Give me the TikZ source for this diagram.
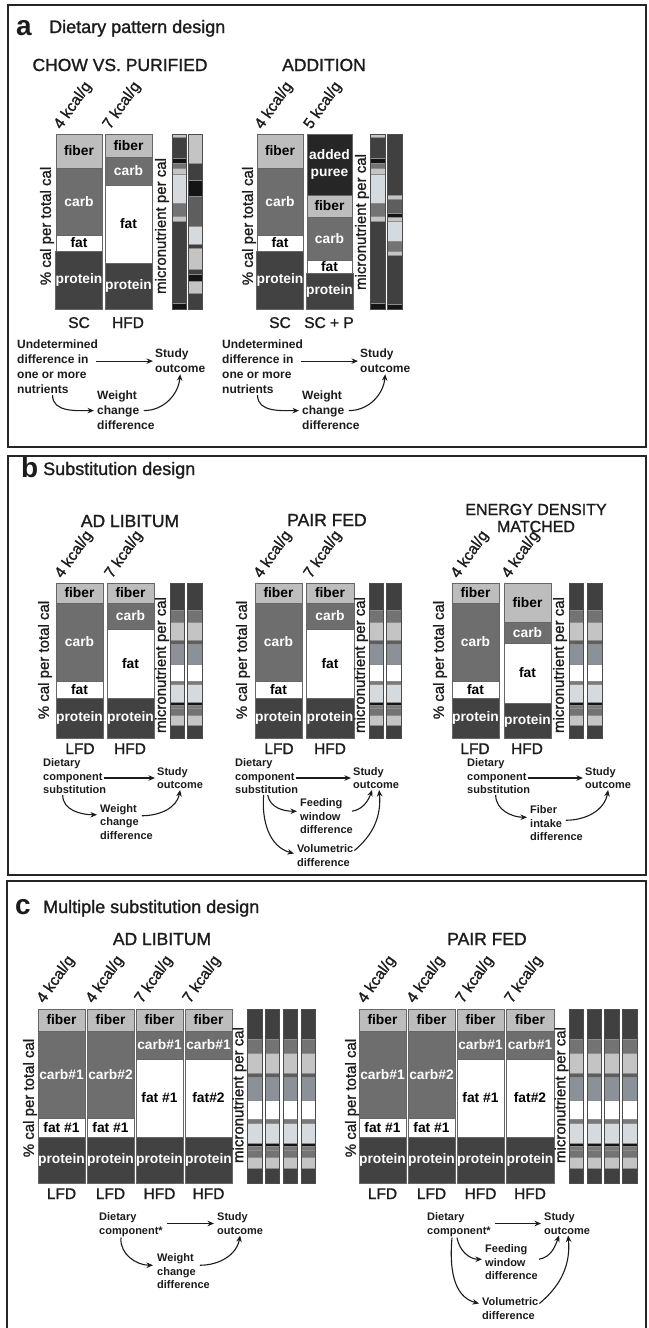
\documentclass[tikz,border=0pt]{standalone}
\usepackage{fontspec}
\setmainfont{Liberation Sans}
\newfontfamily\medfont{Liberation Sans}[FakeBold=1.3]
\usetikzlibrary{arrows.meta}
\definecolor{fibc}{HTML}{BDBDBD}
\definecolor{carbc}{HTML}{6E6E6E}
\definecolor{protc}{HTML}{424242}
\definecolor{purc}{HTML}{262626}
\definecolor{mdark}{HTML}{404040}
\definecolor{mmid}{HTML}{737373}
\definecolor{mlight}{HTML}{C4C4C4}
\definecolor{mgraytwo}{HTML}{5E5E5E}
\definecolor{mblue}{HTML}{8A9198}
\definecolor{mvlb}{HTML}{D5DADE}
\definecolor{mblack}{HTML}{141414}
\definecolor{mgraythree}{HTML}{7A7A7A}
\definecolor{ink}{HTML}{1C1C1C}
\newcommand\fSeg{\fontsize{13.8}{15}\selectfont\bfseries}
\newcommand\fPur{\fontsize{13.8}{17}\selectfont\bfseries}
\newcommand\fKcal{\medfont\fontsize{15.5}{17}\selectfont}
\newcommand\fYlab{\medfont\fontsize{15}{17}\selectfont}
\newcommand\fDlab{\medfont\fontsize{15.5}{17}\selectfont}
\newcommand\fTtl{\medfont\fontsize{17.5}{20}\selectfont}
\newcommand\fTtlS{\medfont\fontsize{16}{19}\selectfont}
\newcommand\fHead{\medfont\fontsize{18}{20}\selectfont}
\newcommand\fLetter{\fontsize{28}{30}\selectfont\bfseries}
\newcommand\fFlowA{\fontsize{12}{15}\selectfont\bfseries}
\newcommand\fFlowB{\fontsize{11}{13.5}\selectfont\bfseries}
\def\ytop{0}\def\ybot{0}
\newcommand\segn[7]{\node[seg,#2,minimum width={#4-#3},minimum height={#6-#5}] (#1) at ({(#3+#4)/2},{(#5+#6)/2}) {#7};}
\newcommand\stk[8]{%
 \segn{#1f}{fib}{#2}{#3}{\ytop}{#4}{fiber}%
 \segn{#1c}{crb}{#2}{#3}{#4}{#5}{#7}%
 \segn{#1t}{ft}{#2}{#3}{#5}{#6}{#8}%
 \segn{#1p}{prt}{#2}{#3}{#6}{\ybot}{protein}}
\newcommand\microbar[3]{%
 \foreach \pa/\pb/\pc in #3 {\filldraw[fill=\pc,draw=black!45,line width=0.3pt] (#1,{\ytop+\pa*(\ybot-\ytop)}) rectangle (#2,{\ytop+\pb*(\ybot-\ytop)});}%
 \draw[draw=black!70,line width=0.7pt] (#1,\ytop) rectangle (#2,\ybot);}
\def\patA{0/.017/mlight,.017/.137/mdark,.137/.166/mblack,.166/.194/mmid,.194/.232/mlight,.232/.394/mvlb,.394/.469/mmid,.469/.5/mlight,.5/.966/mdark,.966/1/mblack}
\def\patB{0/.166/mlight,.166/.261/mdark,.261/.356/mblack,.356/.526/mgraytwo,.526/.63/mvlb,.63/.65/mdark,.65/.773/mlight,.773/.8/mdark,.8/.84/mblack,.84/.907/mlight,.907/1/mdark}
\def\patC{0/.35/mdark,.35/.37/mlight,.37/.45/mgraytwo,.45/.475/mblack,.475/.5/mlight,.5/.61/mvlb,.61/.67/mmid,.67/.69/mlight,.69/.97/mdark,.97/1/mblack}
\def\patP{0/.173/mdark,.173/.255/mmid,.255/.37/mlight,.37/.393/mgraytwo,.393/.525/mblue,.525/.635/white,.635/.655/mgraythree,.655/.77/mvlb,.77/.79/mblack,.79/.81/mgraythree,.81/.85/mmid,.85/.915/mlight,.915/1/mdark}
\begin{document}
\begin{tikzpicture}[x=1pt,y=-1pt,
 seg/.style={draw=black!60,line width=0.6pt,inner sep=0pt,outer sep=0pt,font=\fSeg},
 fib/.style={fill=fibc,text=black},
 crb/.style={fill=carbc,text=white},
 ft/.style={fill=white,text=black},
 prt/.style={fill=protc,text=white},
 pur/.style={fill=purc,text=white,align=center,font=\fPur},
 kcal/.style={anchor=base west,rotate=55,inner sep=0pt,font=\fKcal,text=ink},
 ylab/.style={rotate=90,inner sep=0pt,font=\fYlab,text=ink},
 dlab/.style={anchor=base,inner sep=0pt,font=\fDlab,text=ink},
 ttl/.style={anchor=base,inner sep=0pt,font=\fTtl,text=ink},
 head/.style={anchor=base west,inner sep=0pt,font=\fHead,text=ink},
 letter/.style={anchor=base west,inner sep=0pt,font=\fLetter,text=ink},
 flow/.style={align=left,inner sep=1pt,anchor=north west,text=ink},
 arr/.style={-{Stealth[length=6.5pt,width=5.5pt]},line width=1.1pt,ink},
 panel/.style={draw=black!85,line width=1.6pt}]
\useasboundingbox (0,0) rectangle (648,1328);
\fill[white] (0,0) rectangle (648,1328);
% frames
\draw[panel] (8,5) rectangle (646,447);
\draw[panel] (8,456) rectangle (646,875);
\draw[panel] (7,1335) -- (7,881) -- (646,881) -- (646,1335);
%================ panel a
\node[letter] (la) at (16,35) {a};
\node[head] (ha) at (49,33) {Dietary pattern design};
\node[ttl] (tA1) at (120,71) {CHOW VS. PURIFIED};
\node[ttl] (tA2) at (324,71) {ADDITION};
\def\ytop{134}\def\ybot{309}
\stk{a1}{56}{102}{168}{235}{251}{carb}{fat}
\stk{a2}{105}{152}{157}{185}{263}{carb}{fat}
\stk{a3}{257}{303}{168}{235}{251}{carb}{fat}
\segn{a4u}{pur}{307}{352}{134}{195}{added\\puree}
\segn{a4f}{fib}{307}{352}{195}{217}{fiber}
\segn{a4c}{crb}{307}{352}{217}{260}{carb}
\segn{a4t}{ft}{307}{352}{260}{273}{fat}
\segn{a4p}{prt}{307}{352}{273}{309}{protein}
\microbar{172}{186}{\patA}
\microbar{188}{202}{\patB}
\microbar{370}{385}{\patA}
\microbar{387}{402}{\patC}
\node[kcal] (kA1) at (61,130) {4 kcal/g};
\node[kcal] (kA2) at (110,130) {7 kcal/g};
\node[kcal] (kA3) at (262,130) {4 kcal/g};
\node[kcal] (kA4) at (311,130) {5 kcal/g};
\node[ylab] (yA1) at (47,226) {\% cal per total cal};
\node[ylab] (mA1) at (162,226) {micronutrient per cal};
\node[ylab] (yA2) at (249,226) {\% cal per total cal};
\node[ylab] (mA2) at (362,222) {micronutrient per cal};
\node[dlab] (dA1) at (79,328) {SC};
\node[dlab] (dA2) at (128,328) {HFD};
\node[dlab] (dA3) at (280,328) {SC};
\node[dlab] (dA4) at (329,328) {SC + P};
% flows a
\node[flow,font=\fFlowA] (undA) at (16,339) {Undetermined\\difference in\\one or more\\nutrients};
\node[flow,font=\fFlowA] (stuA) at (154,348) {Study\\outcome};
\node[flow,font=\fFlowA] (wcdA) at (96,390) {Weight\\change\\difference};
\draw[arr] ([xshift=-3pt]undA.east |- stuA.west) -- ([xshift=-1pt]stuA.west);
\draw[arr] ([xshift=-5pt]undA.south) to[out=-90,in=180] ([xshift=-2pt]wcdA.west);
\draw[arr] ([xshift=-12pt]wcdA.east) to[out=0,in=-95] (stuA.south);
\node[flow,font=\fFlowA] (undB) at (221,339) {Undetermined\\difference in\\one or more\\nutrients};
\node[flow,font=\fFlowA] (stuB) at (359,348) {Study\\outcome};
\node[flow,font=\fFlowA] (wcdB) at (301,390) {Weight\\change\\difference};
\draw[arr] ([xshift=-3pt]undB.east |- stuB.west) -- ([xshift=-1pt]stuB.west);
\draw[arr] ([xshift=-5pt]undB.south) to[out=-90,in=180] ([xshift=-2pt]wcdB.west);
\draw[arr] ([xshift=-12pt]wcdB.east) to[out=0,in=-95] (stuB.south);
%================ panel b
\node[letter] (lb) at (21,477) {b};
\node[head] (hb) at (43,475) {Substitution design};
\node[ttl] (tB1) at (130,527) {AD LIBITUM};
\node[ttl] (tB2) at (327,526) {PAIR FED};
\node[ttl,font=\fTtlS] (tB3) at (536,515) {ENERGY DENSITY};
\node[ttl,font=\fTtlS] (tB3b) at (536,532) {MATCHED};
\def\ytop{583}\def\ybot{738}
\stk{b1}{56}{103}{603}{681}{698}{carb}{fat}
\stk{b2}{107}{154}{603}{629}{698}{carb}{fat}
\stk{b3}{255}{302}{603}{681}{698}{carb}{fat}
\stk{b4}{306}{354}{603}{629}{698}{carb}{fat}
\stk{b5}{452}{499}{603}{681}{698}{carb}{fat}
\stk{b6}{504}{551}{622}{643}{703}{carb}{fat}
\microbar{170}{184}{\patP}
\microbar{187}{202}{\patP}
\microbar{369}{383}{\patP}
\microbar{386}{401}{\patP}
\microbar{569}{583}{\patP}
\microbar{587}{602}{\patP}
\node[kcal] (kB1) at (62,579) {4 kcal/g};
\node[kcal] (kB2) at (112,579) {7 kcal/g};
\node[kcal] (kB3) at (261,579) {4 kcal/g};
\node[kcal] (kB4) at (311,579) {7 kcal/g};
\node[kcal] (kB5) at (458,579) {4 kcal/g};
\node[kcal] (kB6) at (509,579) {4 kcal/g};
\node[ylab] (yB1) at (45,660) {\% cal per total cal};
\node[ylab] (yB2) at (243,660) {\% cal per total cal};
\node[ylab] (yB3) at (440,660) {\% cal per total cal};
\node[ylab] (mB1) at (162,665) {micronutrient per cal};
\node[ylab] (mB2) at (361,665) {micronutrient per cal};
\node[ylab] (mB3) at (560,665) {micronutrient per cal};
\node[dlab] (dB1) at (80,754) {LFD};
\node[dlab] (dB2) at (130,754) {HFD};
\node[dlab] (dB3) at (279,754) {LFD};
\node[dlab] (dB4) at (330,754) {HFD};
\node[dlab] (dB5) at (475,754) {LFD};
\node[dlab] (dB6) at (527,754) {HFD};
% flows b1
\node[flow,font=\fFlowB] (dietB1) at (42,757.5) {Dietary\\component\\substitution};
\node[flow,font=\fFlowB] (stuB1) at (156,766) {Study\\outcome};
\node[flow,font=\fFlowB] (wcdB1) at (99,803) {Weight\\change\\difference};
\draw[arr] ([xshift=-3pt]dietB1.east |- stuB1.west) -- ([xshift=-1pt]stuB1.west);
\draw[arr] ([xshift=-12pt]dietB1.south) to[out=-90,in=180] ([yshift=7pt,xshift=-2pt]wcdB1.west);
\draw[arr] ([yshift=6pt,xshift=-12pt]wcdB1.east) to[out=0,in=-100] (stuB1.south);
% flows b2
\node[flow,font=\fFlowB] (dietB2) at (234,757.5) {Dietary\\component\\substitution};
\node[flow,font=\fFlowB] (stuB2) at (352,766) {Study\\outcome};
\node[flow,font=\fFlowB] (feedB2) at (299,797.5) {Feeding\\window\\difference};
\node[flow,font=\fFlowB] (volB2) at (296,843.5) {Volumetric\\difference};
\draw[arr] ([xshift=-3pt]dietB2.east |- stuB2.west) -- ([xshift=-1pt]stuB2.west);
\draw[arr] ([xshift=1pt]dietB2.south) to[out=-80,in=180] ([yshift=5pt,xshift=-2pt]feedB2.west);
\draw[arr] ([xshift=-3pt]dietB2.south) to[out=-95,in=165] ([yshift=2pt,xshift=-2pt]volB2.west);
\draw[arr] ([yshift=5pt,xshift=-2pt]feedB2.east) to[out=10,in=-110] ([xshift=-4pt]stuB2.south);
\draw[arr] ([yshift=5pt]volB2.east) to[out=40,in=-85] ([xshift=3pt]stuB2.south);
% flows b3
\node[flow,font=\fFlowB] (dietB3) at (466,757.5) {Dietary\\component\\substitution};
\node[flow,font=\fFlowB] (stuB3) at (584,766) {Study\\outcome};
\node[flow,font=\fFlowB] (fibB3) at (529,804.5) {Fiber\\intake\\difference};
\draw[arr] ([xshift=-3pt]dietB3.east |- stuB3.west) -- ([xshift=-1pt]stuB3.west);
\draw[arr] ([xshift=-3pt]dietB3.south) to[out=-90,in=180] ([yshift=6pt,xshift=-2pt]fibB3.west);
\draw[arr] ([yshift=3pt,xshift=-18pt]fibB3.east) to[out=0,in=-100] (stuB3.south);
%================ panel c
\node[letter] (lc) at (15,914) {c};
\node[head] (hc) at (43,913) {Multiple substitution design};
\node[ttl] (tC1) at (162,945) {AD LIBITUM};
\node[ttl] (tC2) at (487,945) {PAIR FED};
\def\ytop{1009}\def\ybot{1183}
\stk{c1}{38}{85}{1031}{1118}{1137}{carb\#1}{fat \#1}
\stk{c2}{87}{134}{1031}{1118}{1137}{carb\#2}{fat \#1}
\stk{c3}{136}{183}{1031}{1059}{1137}{carb\#1}{fat \#1}
\stk{c4}{185}{232}{1031}{1059}{1137}{carb\#1}{fat\#2}
\stk{c5}{359}{406}{1031}{1118}{1137}{carb\#1}{fat \#1}
\stk{c6}{408}{455}{1031}{1118}{1137}{carb\#2}{fat \#1}
\stk{c7}{457}{504}{1031}{1059}{1137}{carb\#1}{fat \#1}
\stk{c8}{506}{554}{1031}{1059}{1137}{carb\#1}{fat\#2}
\microbar{247}{262}{\patP}
\microbar{265}{279}{\patP}
\microbar{283}{297}{\patP}
\microbar{301}{315}{\patP}
\microbar{569}{583}{\patP}
\microbar{587}{601}{\patP}
\microbar{604}{619}{\patP}
\microbar{622}{637}{\patP}
\node[kcal] (kC1) at (44,1004) {4 kcal/g};
\node[kcal] (kC2) at (93,1004) {4 kcal/g};
\node[kcal] (kC3) at (142,1004) {7 kcal/g};
\node[kcal] (kC4) at (190,1004) {7 kcal/g};
\node[kcal] (kC5) at (365,1004) {4 kcal/g};
\node[kcal] (kC6) at (414,1004) {4 kcal/g};
\node[kcal] (kC7) at (463,1004) {7 kcal/g};
\node[kcal] (kC8) at (512,1004) {7 kcal/g};
\node[ylab] (yC1) at (30,1098) {\% cal per total cal};
\node[ylab] (yC2) at (352,1098) {\% cal per total cal};
\node[ylab] (mC1) at (239.5,1095) {micronutrient per cal};
\node[ylab] (mC2) at (561.5,1095) {micronutrient per cal};
\node[dlab] (dC1) at (61.5,1199) {LFD};
\node[dlab] (dC2) at (110.5,1199) {LFD};
\node[dlab] (dC3) at (159.5,1199) {HFD};
\node[dlab] (dC4) at (208.5,1199) {HFD};
\node[dlab] (dC5) at (382.5,1199) {LFD};
\node[dlab] (dC6) at (431.5,1199) {LFD};
\node[dlab] (dC7) at (480.5,1199) {HFD};
\node[dlab] (dC8) at (530,1199) {HFD};
% flows c1
\node[flow,font=\fFlowB] (dietC1) at (98,1211.5) {Dietary\\component*};
\node[flow,font=\fFlowB] (stuC1) at (216,1211.5) {Study\\outcome};
\node[flow,font=\fFlowB] (wcdC1) at (156,1252.5) {Weight\\change\\difference};
\draw[arr] ([xshift=3pt]dietC1.east |- stuC1.west) -- ([xshift=-2pt]stuC1.west);
\draw[arr] ([xshift=-10pt]dietC1.south) to[out=-95,in=180] ([yshift=6pt,xshift=-3pt]wcdC1.west);
\draw[arr] ([yshift=6pt,xshift=-11pt]wcdC1.east) to[out=0,in=-100] (stuC1.south);
% flows c2
\node[flow,font=\fFlowB] (dietC2) at (426,1211.5) {Dietary\\component*};
\node[flow,font=\fFlowB] (stuC2) at (543,1211.5) {Study\\outcome};
\node[flow,font=\fFlowB] (feedC2) at (484,1243.5) {Feeding\\window\\difference};
\node[flow,font=\fFlowB] (volC2) at (481,1296.5) {Volumetric\\difference};
\draw[arr] ([xshift=3pt]dietC2.east |- stuC2.west) -- ([xshift=-2pt]stuC2.west);
\draw[arr] ([xshift=-2pt]dietC2.south) to[out=-80,in=180] ([yshift=3pt,xshift=-2pt]feedC2.west);
\draw[arr] ([xshift=-7pt]dietC2.south) to[out=-95,in=165] ([yshift=5pt,xshift=-2pt]volC2.west);
\draw[arr] ([yshift=3pt]feedC2.east) to[out=10,in=-110] ([xshift=-8pt]stuC2.south);
\draw[arr] ([yshift=5pt]volC2.east) to[out=40,in=-85] ([xshift=1pt]stuC2.south);
\end{tikzpicture}
\end{document}
